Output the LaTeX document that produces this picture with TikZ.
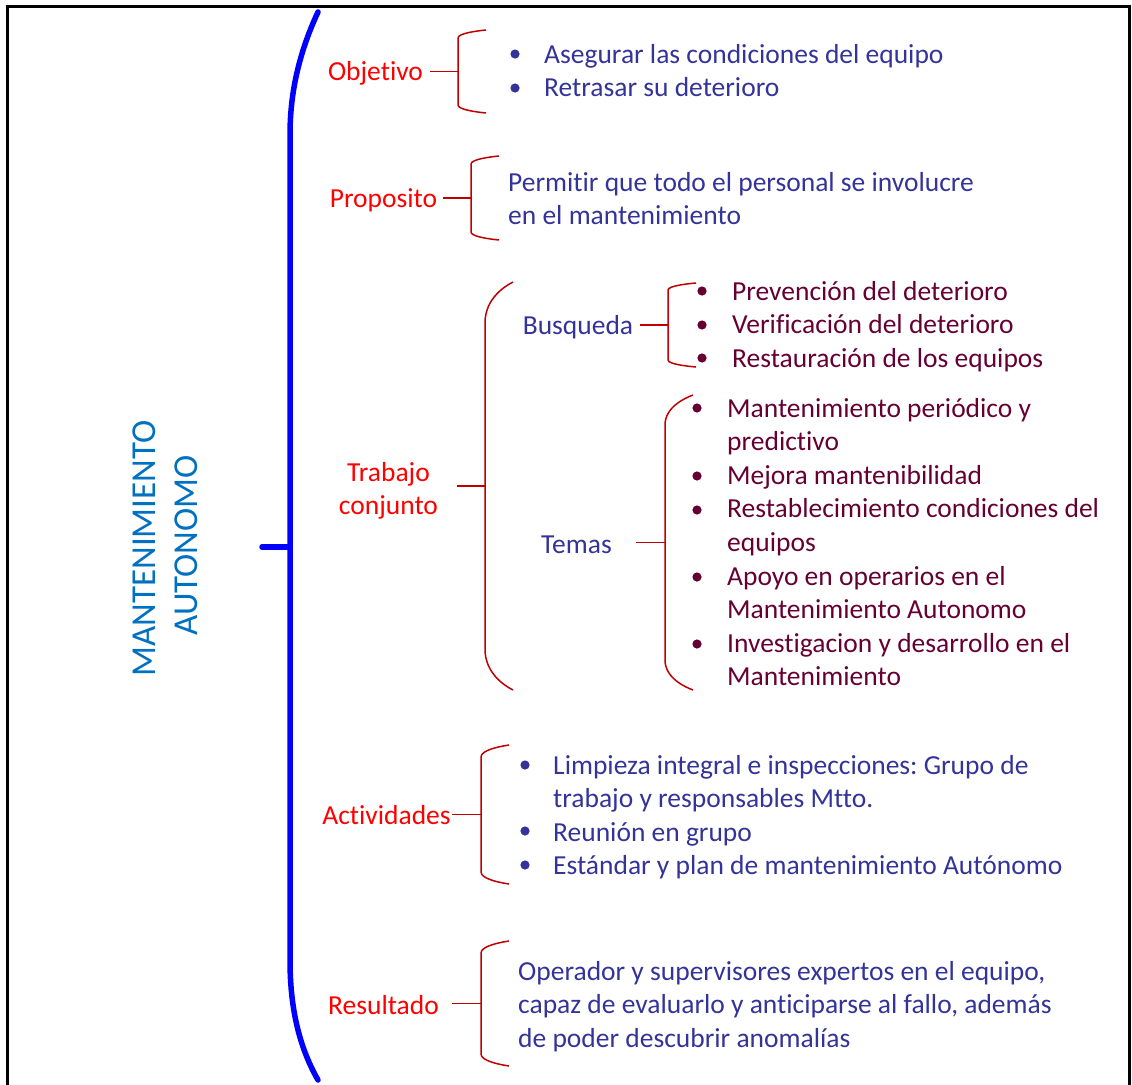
\documentclass[tikz,border=0pt]{standalone}
\usepackage{fontspec}
\setmainfont{Carlito}[Ligatures=NoCommon]
\frenchspacing
\definecolor{labred}{RGB}{255,0,0}
\definecolor{tblue}{RGB}{51,51,153}
\definecolor{maroonc}{RGB}{102,0,51}
\definecolor{brred}{RGB}{192,0,0}
\definecolor{bigblue}{RGB}{0,0,255}
\definecolor{vblue}{RGB}{0,112,192}
\newcommand\mybrace[5]{%
  \draw[brc] ({#2+28},#3) .. controls ({#2+20},{#3+0.1*#5}) and (#2,{#3+0.4*#5}) .. (#2,{#3+#5})
    -- (#2,{#4-#5}) .. controls (#2,{#4-0.4*#5}) and ({#2+20},{#4-0.1*#5}) .. ({#2+28},#4);
  \coordinate (#1) at (#2,{(#3+#4)/2});}
\begin{document}
\begin{tikzpicture}[x=1pt,y=-1pt,
  every node/.style={font=\fontsize{27.5}{33.6}\selectfont},
  lab/.style={text=labred, inner sep=0pt, anchor=base},
  sub/.style={text=tblue, inner sep=0pt, anchor=base},
  txt/.style={inner sep=0pt, anchor=base west},
  brc/.style={draw=brred, line width=1.5pt},
  link/.style={draw=brred, line width=1.8pt},
  bigbr/.style={draw=bigblue, line width=5.5pt, line cap=round},
  vtitle/.style={text=vblue, rotate=90, anchor=base, inner sep=0pt, font=\fontsize{35}{42}\selectfont},
]
\useasboundingbox (0,0) rectangle (1132,1084);
% frame
\draw[line width=2.2pt] (7.5,1090) -- (7.5,6.5) -- (1129.5,6.5) -- (1129.5,1090);

% title
\node[vtitle] (t1) at (155,548.5) {MANTENIMIENTO};
\node[vtitle] (t2) at (197,545.5) {AUTONOMO};

% big bracket
\draw[bigbr] (318,12) .. controls (298,55) and (290,95) .. (290,135) -- (290,960) .. controls (290,1005) and (298,1045) .. (318,1080);
\coordinate (bigmid) at (290,547);
\draw[bigbr] (bigmid) -- ++(-28,0);

% Objetivo
\node[lab] (obj) at (375.5,80) {Objetivo};
\mybrace{objb}{458}{30}{113}{8}
\draw[link] ([xshift=7pt]obj.east |- objb) -- (objb);
\node[txt,text=tblue] (objl) at (544,63) {\begin{tabular}[t]{@{}l@{}}Asegurar las condiciones del equipo\\Retrasar su deterioro\end{tabular}};
\foreach \yy in {54,88} \fill[tblue] (515,\yy) circle (4.6);

% Proposito
\node[lab] (pro) at (383.5,207) {Proposito};
\mybrace{prob}{471}{156}{240}{8}
\draw[link] ([xshift=6pt]pro.east |- prob) -- (prob);
\node[txt,text=tblue] (prol) at (508,191) {\begin{tabular}[t]{@{}l@{}}Permitir que todo el personal se involucre\\en el mantenimiento\end{tabular}};

% Trabajo conjunto
\node[lab] (tc) at (388.5,481) {\begin{tabular}[t]{@{}c@{}}Trabajo\\conjunto\end{tabular}};
\mybrace{tcb}{485}{282}{690}{41}
\draw[link] ([xshift=19pt]tc.east |- tcb) -- (tcb);

% Busqueda
\node[sub] (bus) at (578,334) {Busqueda};
\mybrace{busb}{668}{283}{367}{7}
\draw[link] ([xshift=7pt]bus.east |- busb) -- (busb);
\node[txt,text=maroonc] (busl) at (732,300) {\begin{tabular}[t]{@{}l@{}}Prevención del deterioro\\Verificación del deterioro\\Restauración de los equipos\end{tabular}};
\foreach \yy in {291,325,358} \fill[maroonc] (702,\yy) circle (4.6);

% Temas
\node[sub] (tem) at (576.5,553) {Temas};
\mybrace{temb}{665}{395}{690}{30}
\draw[link] ([xshift=24pt]tem.east |- temb) -- (temb);
\node[txt,text=maroonc] (teml) at (727,417) {\begin{tabular}[t]{@{}l@{}}Mantenimiento periódico y\\predictivo\\Mejora mantenibilidad\\Restablecimiento condiciones del\\equipos\\Apoyo en operarios en el\\Mantenimiento Autonomo\\Investigacion y desarrollo en el\\Mantenimiento\end{tabular}};
\foreach \yy in {408,476,510,577,644} \fill[maroonc] (697,\yy) circle (4.6);

% Actividades
\node[lab] (act) at (386.5,824) {Actividades};
\mybrace{actb}{481}{745}{884}{12}
\draw[link] ([xshift=1pt]act.east |- actb) -- (actb);
\node[txt,text=tblue] (actl) at (553,774) {\begin{tabular}[t]{@{}l@{}}Limpieza integral e inspecciones: Grupo de\\trabajo y responsables Mtto.\\Reunión en grupo\\Estándar y plan de mantenimiento Autónomo\end{tabular}};
\foreach \yy in {765,831,865} \fill[tblue] (525,\yy) circle (4.6);

% Resultado
\node[lab] (res) at (383.5,1014) {Resultado};
\mybrace{resb}{481}{941}{1066}{12}
\draw[link] ([xshift=13pt]res.east |- resb) -- (resb);
\node[txt,text=tblue] (resl) at (518,980) {\begin{tabular}[t]{@{}l@{}}Operador y supervisores expertos en el equipo,\\capaz de evaluarlo y anticiparse al fallo, además\\de poder descubrir anomalías\end{tabular}};
\end{tikzpicture}
\end{document}
